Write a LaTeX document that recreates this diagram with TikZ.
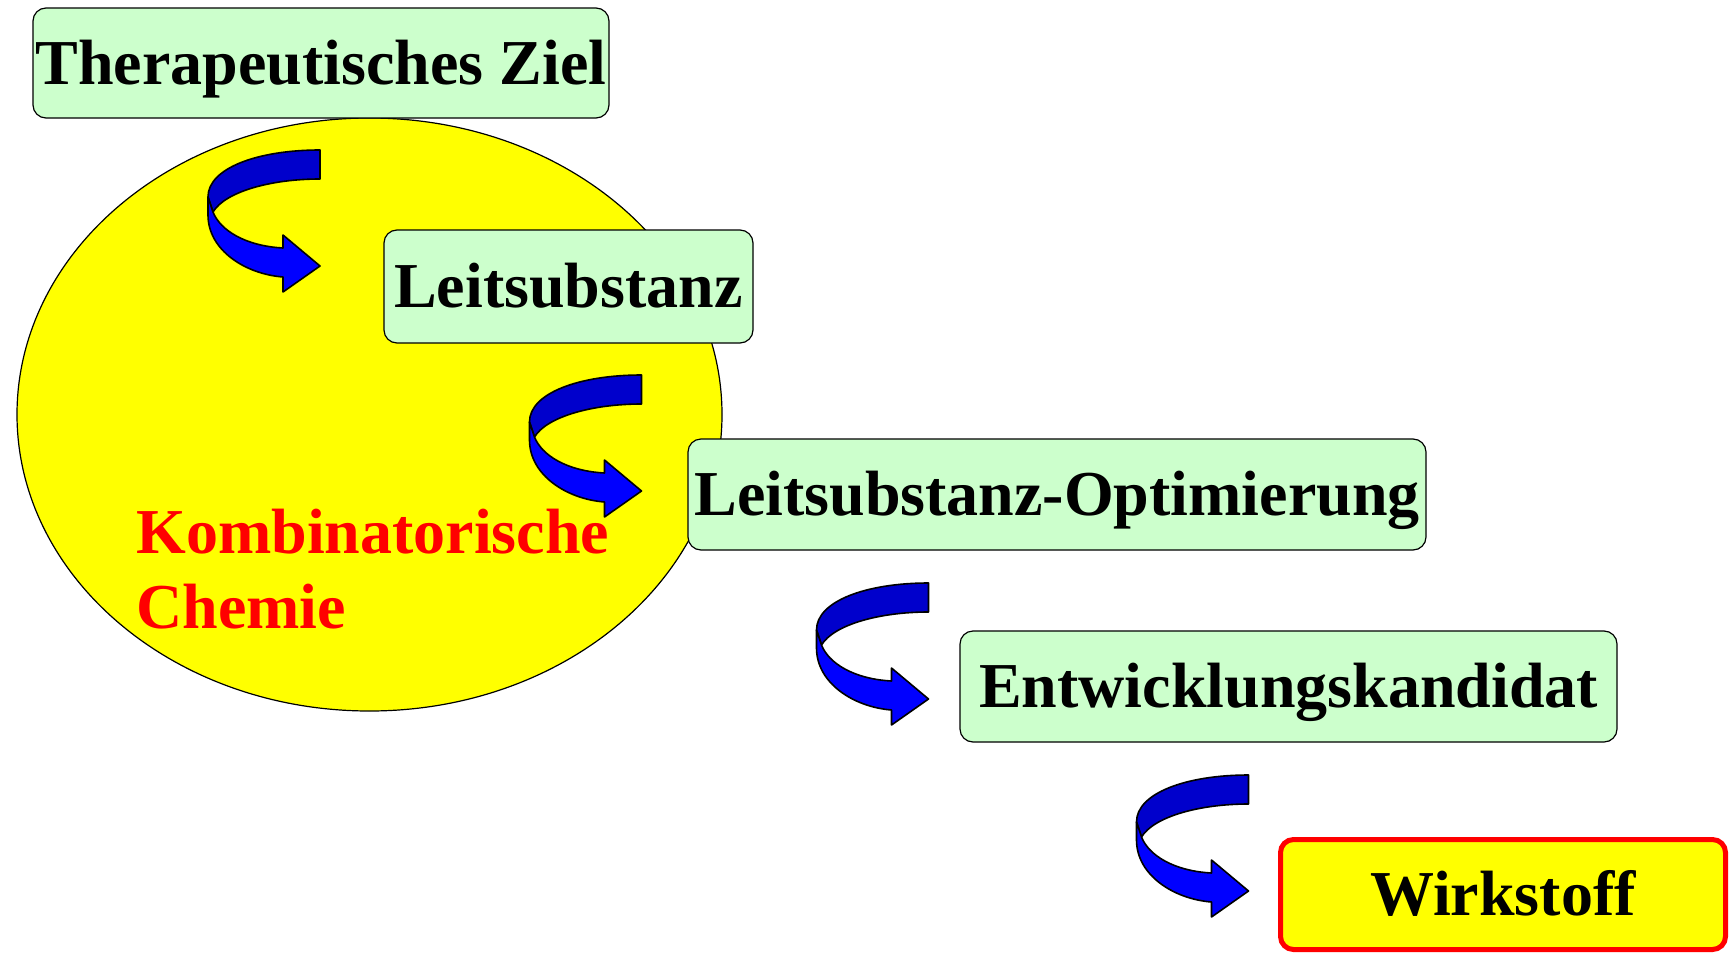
\documentclass[tikz,border=0pt]{standalone}
\usepackage{fontspec}
\setmainfont{Liberation Serif}
\definecolor{boxgreen}{RGB}{204,255,204}
\definecolor{darkblue}{RGB}{0,0,204}
\definecolor{brightblue}{RGB}{0,0,255}
\definecolor{ellyellow}{RGB}{255,255,0}
\definecolor{textred}{RGB}{255,0,0}
\tikzset{
  stagebox/.style={draw=black, line width=0.6pt, fill=boxgreen, rounded corners=6.5pt,
    inner sep=0pt, text height=21pt, text depth=0pt,
    font=\bfseries\fontsize{32}{37.5}\selectfont},
  finalbox/.style={stagebox, draw=textred, line width=2.5pt, fill=ellyellow},
  turnarrow/.pic={
    \filldraw[fill=darkblue, draw=black, line width=0.8pt, line join=round]
      (0,0) .. controls (-62,0) and (-112,18) .. (-112,47) -- (-107,62)
      .. controls (-95,42) and (-50,29) .. (0,29) -- cycle;
    \filldraw[fill=brightblue, draw=black, line width=0.8pt, line join=round]
      (-112,47) -- (-112,65) .. controls (-112,100) and (-75,124) .. (-37,127)
      -- (-37,142) -- (0,116) -- (-37,85) -- (-37,98)
      .. controls (-75,96) and (-100,80) .. (-107,62) -- cycle;
  }
}
\begin{document}
\begin{tikzpicture}[x=0.5pt, y=-0.5pt]
\useasboundingbox (0,0) rectangle (1729,953);
% ellipse
\draw[fill=ellyellow, draw=black, line width=0.6pt] (369.5,414.5) ellipse [x radius=352.5, y radius=296.5];
\node[anchor=base west, align=left, text=textred, font=\bfseries\fontsize{32}{37.5}\selectfont, inner sep=0pt]
  (kc) at (136,628) {Kombinatorische\\Chemie};
% boxes
\node[stagebox, minimum width=288pt, minimum height=55pt] (ziel) at (321,63) {Therapeutisches Ziel};
\node[stagebox, minimum width=184.5pt, minimum height=56.5pt] (leit) at (568.5,286.5) {Leitsubstanz};
\node[stagebox, minimum width=369pt, minimum height=55.5pt] (opt) at (1057,494.5) {Leitsubstanz-Optimierung};
\node[stagebox, minimum width=328.5pt, minimum height=55.5pt] (kand) at (1288.5,686.5) {Entwicklungskandidat};
\node[finalbox, minimum width=222.5pt, minimum height=55pt] (wirk) at (1503,894.5) {Wirkstoff};
% arrows
\pic at (320,150) {turnarrow};
\pic at (641.5,375) {turnarrow};
\pic at (928.5,583) {turnarrow};
\pic at (1248.5,775) {turnarrow};
\end{tikzpicture}
\end{document}
